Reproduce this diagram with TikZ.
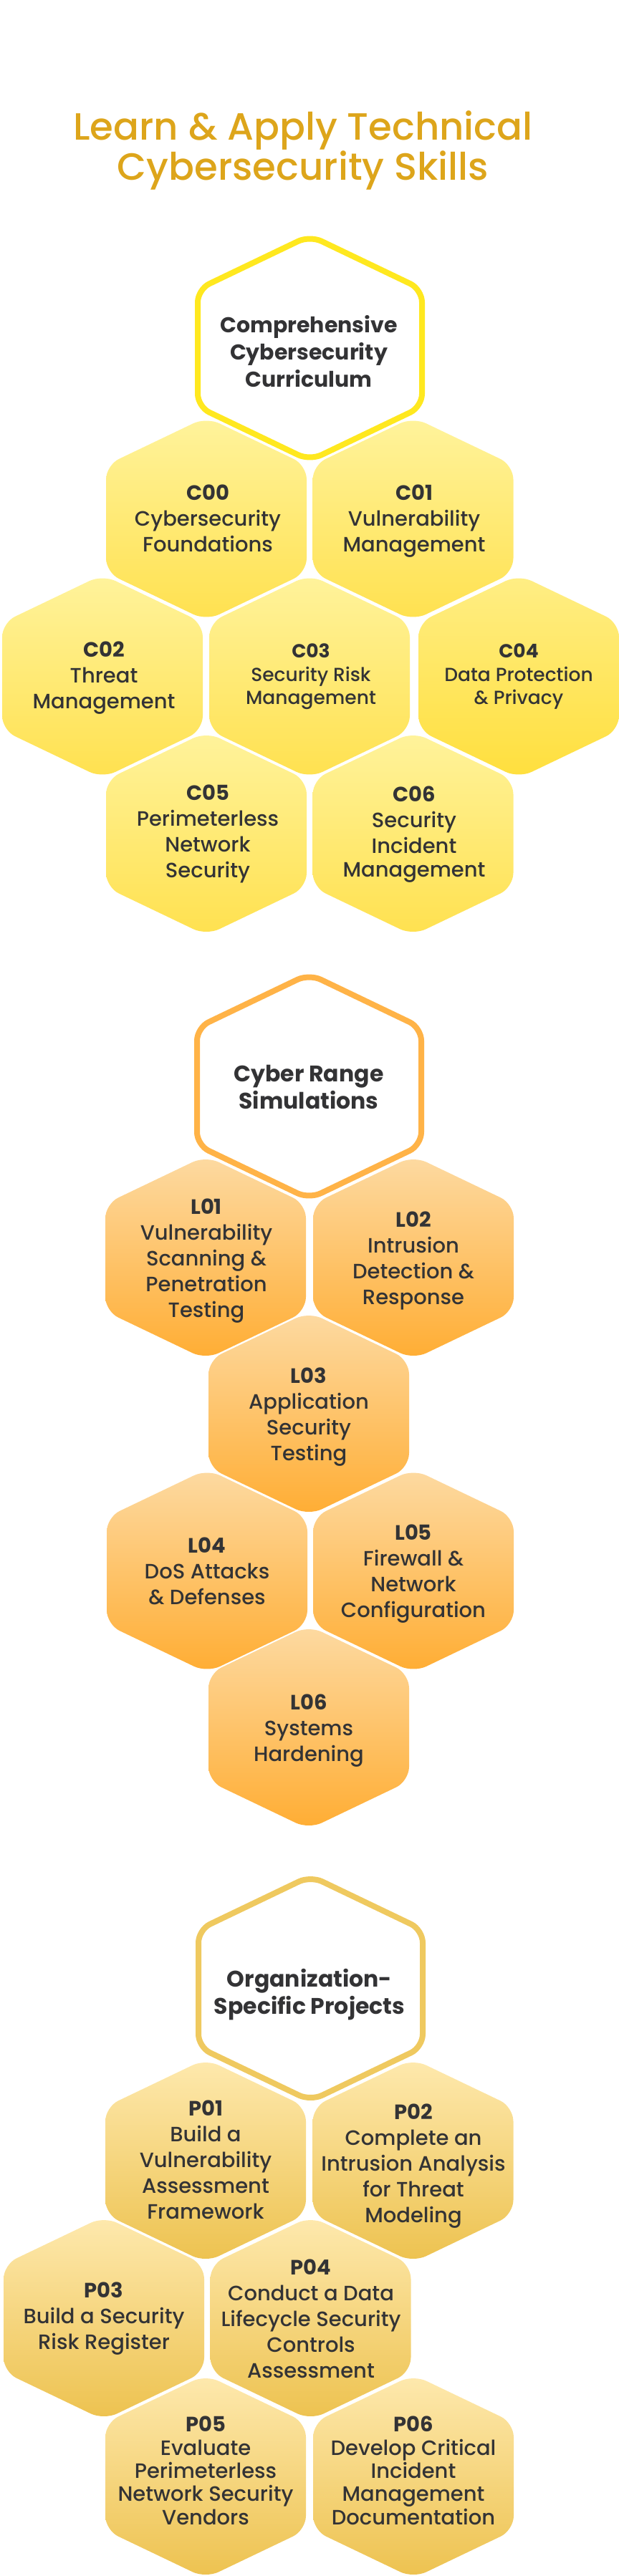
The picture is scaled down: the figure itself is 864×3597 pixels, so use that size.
\documentclass[tikz,border=0pt]{standalone}
\usepackage{fontspec}
\setmainfont{Poppins}[UprightFont=* Medium,BoldFont=* Bold]
\definecolor{ink}{HTML}{333335}
\definecolor{titlegold}{HTML}{DDA51B}
\definecolor{ybig}{HTML}{FFE81F}
\definecolor{obig}{HTML}{FFB347}
\definecolor{gbig}{HTML}{EFC95F}
\definecolor{ytop}{HTML}{FFF39C}
\definecolor{ybot}{HTML}{FFE14F}
\definecolor{ytopb}{HTML}{FFEE85}
\definecolor{ybotb}{HTML}{FFDF3D}
\definecolor{otop}{HTML}{FDDAA2}
\definecolor{obot}{HTML}{FFAD33}
\definecolor{gtop}{HTML}{FEE9AE}
\definecolor{gbot}{HTML}{EDC24F}
\tikzset{
  yhex/.style={top color=ytop,bottom color=ybot,draw=none},
  yhexb/.style={top color=ytopb,bottom color=ybotb,draw=none},
  ohex/.style={top color=otop,bottom color=obot,draw=none},
  ghex/.style={top color=gtop,bottom color=gbot,draw=none},
  bighex/.style={fill=white,line width=8pt,line join=round},
  txt/.style={anchor=base,align=center,inner sep=0pt,outer sep=0pt,text=ink,font=\fontsize{29}{36}\selectfont},
  txts/.style={txt,font=\fontsize{26.5}{32.5}\selectfont},
  txtp/.style={txt,font=\fontsize{29}{32.3}\selectfont},
  head/.style={txt,font=\bfseries\fontsize{30}{38}\selectfont},
  headb/.style={txt,font=\bfseries\fontsize{31.5}{37.5}\selectfont},
  ttl/.style={anchor=base,align=center,inner sep=0pt,outer sep=0pt,text=titlegold,font=\fontsize{53}{56}\selectfont},
}
\newcommand{\smallhex}[3]{\path[#1,rounded corners=20pt] ({#2},{#3-142}) -- ({#2+140},{#3-75}) -- ({#2+140},{#3+75}) -- ({#2},{#3+142}) -- ({#2-140},{#3+75}) -- ({#2-140},{#3-75}) -- cycle;}
\newcommand{\largehex}[3]{\path[bighex,draw=#1,rounded corners=18pt] ({#2},{#3-157}) -- ({#2+156.5},{#3-82}) -- ({#2+156.5},{#3+82}) -- ({#2},{#3+157}) -- ({#2-156.5},{#3+82}) -- ({#2-156.5},{#3-82}) -- cycle;}
\begin{document}
\begin{tikzpicture}[x=1pt,y=-1pt]
\useasboundingbox (0,0) rectangle (864,3597);
\node[ttl] (title) at (423,251) {Learn \& Apply Technical\\Cybersecurity Skills};
% section 1
\smallhex{yhex}{288}{724.5}
\smallhex{yhex}{576.5}{724.5}
\smallhex{yhex}{143}{944.5}
\smallhex{yhex}{432}{944.5}
\smallhex{yhexb}{724}{944.5}
\smallhex{yhex}{288}{1164}
\smallhex{yhex}{576.5}{1164}
\largehex{ybig}{432.5}{486}
\node[head] (curr) at (431,540) {Comprehensive\\Cybersecurity\\Curriculum};
\node[txt] (c00) at (290,770) {\textbf{C00}\\Cybersecurity\\Foundations};
\node[txt] (c01) at (578,770) {\textbf{C01}\\Vulnerability\\Management};
\node[txt] (c02) at (145,989) {\textbf{C02}\\Threat\\Management};
\node[txts] (c03) at (434,983.6) {\textbf{C03}\\Security Risk\\Management};
\node[txts] (c04) at (724,983.6) {\textbf{C04}\\Data Protection\\\& Privacy};
\node[txt] (c05) at (290,1225.5) {\textbf{C05}\\Perimeterless\\Network\\Security};
\node[txt] (c06) at (578,1224.4) {\textbf{C06}\\Security\\Incident\\[-3pt]Management};
% section 2
\smallhex{ohex}{287}{1756}
\smallhex{ohex}{577}{1756}
\smallhex{ohex}{431}{1974}
\smallhex{ohex}{289}{2193.5}
\smallhex{ohex}{577}{2193.5}
\smallhex{ohex}{431}{2412}
\largehex{obig}{431.5}{1517}
\node[headb] (range) at (431,1548) {Cyber Range\\Simulations};
\node[txt] (l01) at (288,1839) {\textbf{L01}\\Vulnerability\\Scanning \&\\Penetration\\Testing};
\node[txt] (l02) at (577,1821) {\textbf{L02}\\Intrusion\\Detection \&\\Response};
\node[txt] (l03) at (431,2039) {\textbf{L03}\\Application\\Security\\Testing};
\node[txt] (l04) at (289,2240) {\textbf{L04}\\DoS Attacks\\\& Defenses};
\node[txt] (l05) at (577,2258) {\textbf{L05}\\Firewall \&\\Network\\Configuration};
\node[txt] (l06) at (431,2459) {\textbf{L06}\\Systems\\Hardening};
% section 3
\smallhex{ghex}{287}{3017}
\smallhex{ghex}{576.5}{3017}
\smallhex{ghex}{145}{3237}
\smallhex{ghex}{433.5}{3237}
\smallhex{ghex}{287}{3458}
\smallhex{ghex}{577}{3458}
\largehex{gbig}{433.5}{2776.5}
\node[headb] (org) at (432,2812) {Organization-\\Specific Projects};
\node[txt] (p01) at (287,3098) {\textbf{P01}\\Build a\\Vulnerability\\Assessment\\Framework};
\node[txt] (p02) at (577,3103) {\textbf{P02}\\Complete an\\Intrusion Analysis\\for Threat\\Modeling};
\node[txt] (p03) at (145,3280) {\textbf{P03}\\Build a Security\\Risk Register};
\node[txt] (p04) at (434,3320) {\textbf{P04}\\Conduct a Data\\Lifecycle Security\\Controls\\Assessment};
\node[txtp] (p05) at (287,3525) {\textbf{P05}\\Evaluate\\Perimeterless\\Network Security\\Vendors};
\node[txtp] (p06) at (577,3525) {\textbf{P06}\\Develop Critical\\Incident\\Management\\Documentation};
\end{tikzpicture}
\end{document}
